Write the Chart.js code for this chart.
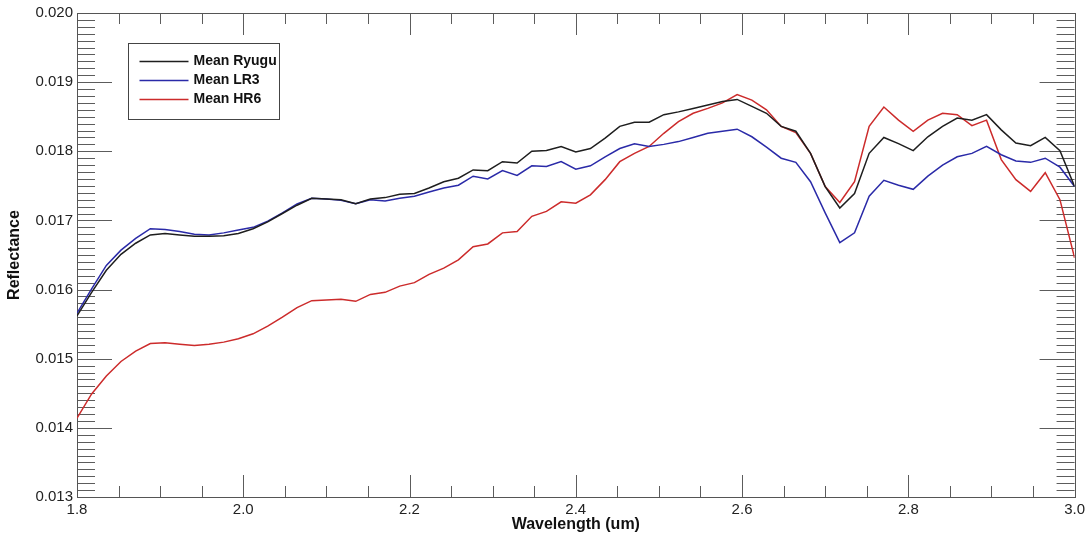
<!DOCTYPE html>
<html>
<head>
<meta charset="utf-8">
<title>Mean reflectance spectra</title>
<script src="https://cdn.jsdelivr.net/npm/chart.js@4.4.1/dist/chart.umd.min.js"></script>
<style>
    html, body { margin: 0; padding: 0; background: #fff; }
    #wrap { width: 1089px; height: 540px; }
</style>
</head>
<body>
<div id="wrap"><canvas id="spectra"></canvas></div>
<script>
var wavelength = [
    1.8000, 1.8176, 1.8353, 1.8529, 1.8706, 1.8882, 1.9059, 1.9235, 1.9412, 1.9588,
    1.9765, 1.9941, 2.0118, 2.0294, 2.0471, 2.0647, 2.0824, 2.1000, 2.1176, 2.1353,
    2.1529, 2.1706, 2.1882, 2.2059, 2.2235, 2.2412, 2.2588, 2.2765, 2.2941, 2.3118,
    2.3294, 2.3471, 2.3647, 2.3824, 2.4000, 2.4176, 2.4353, 2.4529, 2.4706, 2.4882,
    2.5059, 2.5235, 2.5412, 2.5588, 2.5765, 2.5941, 2.6118, 2.6294, 2.6471, 2.6647,
    2.6824, 2.7000, 2.7176, 2.7353, 2.7529, 2.7706, 2.7882, 2.8059, 2.8235, 2.8412,
    2.8588, 2.8765, 2.8941, 2.9118, 2.9294, 2.9471, 2.9647, 2.9824, 3.0000
];

var meanRyugu = [
    0.01562, 0.01596, 0.01628, 0.01651, 0.01667, 0.01679, 0.01681, 0.01679, 0.01677, 0.01677,
    0.01678, 0.01681, 0.01688, 0.01698, 0.01710, 0.01722, 0.01732, 0.01731, 0.01730, 0.01724,
    0.01731, 0.01733, 0.01738, 0.01739, 0.01747, 0.01756, 0.01761, 0.01773, 0.01772, 0.01785,
    0.01783, 0.01800, 0.01801, 0.01807, 0.01799, 0.01804, 0.01819, 0.01836, 0.01842, 0.01842,
    0.01853, 0.01857, 0.01862, 0.01867, 0.01872, 0.01875, 0.01865, 0.01855, 0.01836, 0.01829,
    0.01797, 0.01749, 0.01718, 0.01739, 0.01797, 0.01820, 0.01811, 0.01801, 0.01821, 0.01836,
    0.01848, 0.01845, 0.01853, 0.01831, 0.01812, 0.01808, 0.01820, 0.01801, 0.01749
];

var meanLR3 = [
    0.01566, 0.01601, 0.01635, 0.01657, 0.01674, 0.01688, 0.01687, 0.01684, 0.01680, 0.01679,
    0.01682, 0.01686, 0.01690, 0.01699, 0.01711, 0.01724, 0.01732, 0.01731, 0.01729, 0.01724,
    0.01730, 0.01728, 0.01732, 0.01735, 0.01741, 0.01747, 0.01751, 0.01764, 0.01760, 0.01772,
    0.01765, 0.01779, 0.01778, 0.01785, 0.01774, 0.01779, 0.01792, 0.01804, 0.01811, 0.01807,
    0.01810, 0.01814, 0.01820, 0.01826, 0.01829, 0.01832, 0.01821, 0.01806, 0.01790, 0.01784,
    0.01756, 0.01711, 0.01668, 0.01682, 0.01735, 0.01758, 0.01751, 0.01745, 0.01764, 0.01780,
    0.01792, 0.01797, 0.01807, 0.01795, 0.01786, 0.01784, 0.01790, 0.01777, 0.01749
];

var meanHR6 = [
    0.01414, 0.01449, 0.01475, 0.01496, 0.01511, 0.01522, 0.01523, 0.01521, 0.01519, 0.01521,
    0.01524, 0.01529, 0.01536, 0.01547, 0.01560, 0.01574, 0.01584, 0.01585, 0.01586, 0.01583,
    0.01593, 0.01596, 0.01605, 0.01610, 0.01622, 0.01631, 0.01643, 0.01662, 0.01666, 0.01682,
    0.01684, 0.01706, 0.01713, 0.01727, 0.01725, 0.01737, 0.01759, 0.01785, 0.01797, 0.01807,
    0.01826, 0.01843, 0.01855, 0.01862, 0.01870, 0.01882, 0.01874, 0.01860, 0.01836, 0.01827,
    0.01797, 0.01749, 0.01726, 0.01756, 0.01836, 0.01864, 0.01845, 0.01829, 0.01845, 0.01855,
    0.01853, 0.01837, 0.01845, 0.01788, 0.01759, 0.01742, 0.01769, 0.01730, 0.01646
];

var xTicks = [1.8, 2.0, 2.2, 2.4, 2.6, 2.8, 3.0];
var yTicks = [0.013, 0.014, 0.015, 0.016, 0.017, 0.018, 0.019, 0.020];

Chart.defaults.font.family = '"Liberation Sans", Arial, sans-serif';

function toPoints(values) {
    return values.map(function (v, i) {
        return {x: wavelength[i], y: v};
    });
}

// box round the plot with inward ticks on every side
var frameTicks = {
    id: 'frameTicks',
    beforeDatasetsDraw: function (chart) {
        var ctx = chart.ctx;
        var area = chart.chartArea;
        var xs = chart.scales.x;
        var ys = chart.scales.y;
        var k, p, len;

        ctx.save();
        ctx.strokeStyle = '#5c5c5c';
        ctx.lineWidth = 1;
        ctx.beginPath();

        // 0.05 um minors, 0.2 um majors
        for (k = 1; k < 24; k++) {
            p = Math.round(xs.getPixelForValue(1.8 + k * 0.05)) + 0.5;
            len = k % 4 === 0 ? 22 : 11;
            ctx.moveTo(p, area.bottom);
            ctx.lineTo(p, area.bottom - len);
            ctx.moveTo(p, area.top);
            ctx.lineTo(p, area.top + len);
        }

        // 0.0001 minors, 0.001 majors
        for (k = 1; k < 70; k++) {
            p = Math.round(ys.getPixelForValue(0.013 + k * 0.0001)) + 0.5;
            len = k % 10 === 0 ? 35 : 18;
            ctx.moveTo(area.left, p);
            ctx.lineTo(area.left + len, p);
            ctx.moveTo(area.right, p);
            ctx.lineTo(area.right - len, p);
        }
        ctx.stroke();

        ctx.strokeStyle = '#555';
        ctx.strokeRect(Math.round(area.left) + 0.5, Math.round(area.top) + 0.5,
            Math.round(area.right - area.left), Math.round(area.bottom - area.top));
        ctx.restore();
    }
};

// legend box in the upper left of the plot
var boxLegend = {
    id: 'boxLegend',
    afterDatasetsDraw: function (chart) {
        var ctx = chart.ctx;
        var area = chart.chartArea;
        var left = Math.round(area.left + 51) + 0.5;
        var top = Math.round(area.top + 30) + 0.5;

        ctx.save();
        ctx.fillStyle = '#fff';
        ctx.fillRect(left, top, 151, 76);
        ctx.strokeStyle = '#444';
        ctx.lineWidth = 1;
        ctx.strokeRect(left, top, 151, 76);

        ctx.font = 'bold 14px "Liberation Sans", Arial, sans-serif';
        ctx.textBaseline = 'middle';
        chart.data.datasets.forEach(function (ds, i) {
            var y = top + 18 + i * 19;
            ctx.strokeStyle = ds.borderColor;
            ctx.lineWidth = 1.5;
            ctx.beginPath();
            ctx.moveTo(left + 11, y);
            ctx.lineTo(left + 60, y);
            ctx.stroke();
            ctx.fillStyle = '#111';
            ctx.fillText(ds.label, left + 65, y);
        });
        ctx.restore();
    }
};

new Chart(document.getElementById('spectra'), {
    type: 'line',
    data: {
        datasets: [
            {label: 'Mean Ryugu', data: toPoints(meanRyugu), borderColor: '#1e1e1e'},
            {label: 'Mean LR3', data: toPoints(meanLR3), borderColor: '#2a2aa8'},
            {label: 'Mean HR6', data: toPoints(meanHR6), borderColor: '#cc2b2b'}
        ]
    },
    options: {
        responsive: true,
        maintainAspectRatio: false,
        animation: false,
        layout: {padding: {top: 13, right: 14, left: 0, bottom: 0}},
        elements: {
            point: {radius: 0},
            line: {borderWidth: 1.5, tension: 0, fill: false}
        },
        plugins: {
            legend: {display: false},
            tooltip: {enabled: false}
        },
        scales: {
            x: {
                type: 'linear',
                min: 1.8,
                max: 3.0,
                grid: {display: false, drawTicks: false},
                border: {display: false},
                afterBuildTicks: function (scale) {
                    scale.ticks = xTicks.map(function (v) { return {value: v}; });
                },
                afterFit: function (scale) { scale.height = 43; },
                ticks: {
                    padding: 4,
                    color: '#222',
                    font: {size: 15},
                    maxRotation: 0,
                    autoSkip: false,
                    callback: function (v) { return Number(v).toFixed(1); }
                },
                title: {
                    display: true,
                    text: 'Wavelength (um)',
                    color: '#111',
                    font: {size: 16, weight: 'bold'},
                    padding: {top: 0, bottom: 6}
                }
            },
            y: {
                min: 0.013,
                max: 0.020,
                grid: {display: false, drawTicks: false},
                border: {display: false},
                afterBuildTicks: function (scale) {
                    scale.ticks = yTicks.map(function (v) { return {value: v}; });
                },
                afterFit: function (scale) { scale.width = 77; },
                ticks: {
                    padding: 4,
                    color: '#222',
                    font: {size: 15},
                    callback: function (v) { return Number(v).toFixed(3); }
                },
                title: {
                    display: true,
                    text: 'Reflectance',
                    color: '#111',
                    font: {size: 16, weight: 'bold'},
                    padding: {top: 5, bottom: 0}
                }
            }
        }
    },
    plugins: [frameTicks, boxLegend]
});
</script>
</body>
</html>
